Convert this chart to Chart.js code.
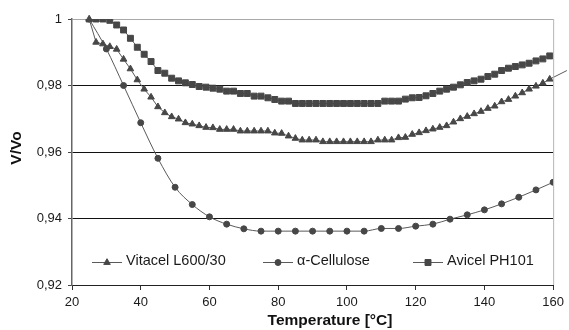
<!DOCTYPE html>
<html>
<head>
<meta charset="utf-8">
<script src="https://cdn.jsdelivr.net/npm/chart.js@4.4.0/dist/chart.umd.min.js"></script>
<style>
  html, body { margin:0; padding:0; background:#fff; }
  #wrap { width:569px; height:330px; }
</style>
</head>
<body>
<div id="wrap"><canvas id="chart" width="569" height="330"></canvas></div>
<script>
// Temperaturas (°C)
const temps2 = [25,27,29,31,33,35,37,39,41,43,45,47,49,51,53,55,57,59,61,63,65,67,69,71,73,75,77,79,81,83,85,87,89,91,93,95,97,99,101,103,105,107,109,111,113,115,117,119,121,123,125,127,129,131,133,135,137,139,141,143,145,147,149,151,153,155,157,159];
const temps5 = [25,30,35,40,45,50,55,60,65,70,75,80,85,90,95,100,105,110,115,120,125,130,135,140,145,150,155,160];

// V/Vo
const vitacel = [1.0,0.9930,0.9925,0.9917,0.9909,0.9879,0.9850,0.9817,0.9789,0.9765,0.9736,0.9718,0.9706,0.9699,0.9688,0.9684,0.9679,0.9674,0.9673,0.9668,0.9668,0.9668,0.9663,0.9663,0.9663,0.9663,0.9663,0.9657,0.9656,0.9648,0.9641,0.9636,0.9636,0.9636,0.9631,0.9631,0.9631,0.9631,0.9631,0.9631,0.9631,0.9631,0.9636,0.9636,0.9636,0.9643,0.9644,0.9653,0.9658,0.9664,0.9669,0.9674,0.9679,0.9690,0.9700,0.9707,0.9715,0.9722,0.9731,0.9738,0.9751,0.9758,0.9768,0.9778,0.9789,0.9798,0.9807,0.9819];
// la línea de tendencia sigue un poco más allá de 160
const vitacelEnd = { x:164, y:0.9845 };
const cellulose = [1.0,0.9910,0.9800,0.9688,0.9581,0.9494,0.9442,0.9405,0.9383,0.9369,0.9362,0.9362,0.9362,0.9362,0.9362,0.9362,0.9362,0.9370,0.9370,0.9377,0.9383,0.9398,0.9411,0.9426,0.9444,0.9464,0.9486,0.9509];
const avicel = [1.0,1.0,1.0,0.9996,0.9982,0.9967,0.9942,0.9915,0.9894,0.9872,0.9845,0.9837,0.9822,0.9814,0.9808,0.9803,0.9797,0.9795,0.9792,0.9789,0.9783,0.9783,0.9776,0.9776,0.9768,0.9768,0.9763,0.9758,0.9753,0.9753,0.9746,0.9746,0.9746,0.9746,0.9746,0.9746,0.9746,0.9746,0.9746,0.9746,0.9746,0.9746,0.9746,0.9753,0.9753,0.9753,0.9759,0.9763,0.9764,0.9769,0.9776,0.9783,0.9789,0.9795,0.9802,0.9809,0.9814,0.9819,0.9827,0.9834,0.9845,0.9852,0.9857,0.9862,0.9867,0.9874,0.9880,0.9889];

const seriesNames = ['Vitacel L600/30','\u03b1-Cellulose','Avicel PH101'];
const xTicks = [20,40,60,80,100,120,140,160];
const yTicks = [0.92,0.94,0.96,0.98,1];

const FONT = "'Liberation Sans', Arial, sans-serif";
const MARK = '#474747';
const LINE = '#5a5a5a';
const styles = ['triangle','circle','rect'];
const radii = [3.8, 3, 4.2];

function pts(xs, ys){ return xs.map((x,i)=>({x:x, y:ys[i]})); }

const vitacelPts = pts(temps2, vitacel);
vitacelPts.push(vitacelEnd);

// Leyenda y títulos de ejes
const extras = {
  id:'extras',
  afterDraw(chart){
    const c = chart.ctx, a = chart.chartArea;
    c.save();
    // borde derecho gris claro
    c.strokeStyle = '#b5b5b5'; c.lineWidth = 1;
    c.beginPath(); c.moveTo(a.right+0.5, a.top); c.lineTo(a.right+0.5, a.bottom); c.stroke();

    // leyenda
    const ly = a.bottom - 22.5;
    const starts = [92, 263, 413];
    seriesNames.forEach((name,i)=>{
      const x0 = starts[i];
      c.strokeStyle = LINE; c.lineWidth = 1;
      c.beginPath(); c.moveTo(x0, ly); c.lineTo(x0+30, ly); c.stroke();
      c.fillStyle = MARK; c.strokeStyle = MARK;
      Chart.helpers.drawPoint(c, {pointStyle: styles[i], radius: radii[i], borderWidth:1}, x0+15, ly);
      c.fillStyle = '#1a1a1a';
      c.font = '14.5px ' + FONT;
      c.textBaseline = 'middle'; c.textAlign = 'left';
      c.fillText(name, x0+34, ly-1.5);
    });

    // títulos
    c.fillStyle = '#111';
    c.font = 'bold 15.5px ' + FONT;
    c.textAlign = 'center'; c.textBaseline = 'middle';
    c.fillText('Temperature [\u00b0C]', 330, 321);
    c.translate(17, 148); c.rotate(-Math.PI/2);
    c.fillText('V/Vo', 0, 0);
    c.restore();
  }
};

const common = { showLine:true, borderColor:LINE, borderWidth:1, backgroundColor:MARK, pointBorderColor:MARK, pointBorderWidth:1, pointHoverRadius:0 };

new Chart(document.getElementById('chart'), {
  type:'scatter',
  data:{ datasets:[
    Object.assign({}, common, { label:seriesNames[0], data:vitacelPts, pointStyle:styles[0], pointRadius:(ctx)=> ctx.dataIndex === vitacelPts.length-1 ? 0 : radii[0], clip:false }),
    Object.assign({}, common, { label:seriesNames[1], data:pts(temps5, cellulose), pointStyle:styles[1], pointRadius:radii[1], tension:0.4, cubicInterpolationMode:'monotone' }),
    Object.assign({}, common, { label:seriesNames[2], data:pts(temps2, avicel), pointStyle:styles[2], pointRadius:radii[2] })
  ]},
  options:{
    responsive:false, animation:false, devicePixelRatio:1,
    layout:{ padding:{ top:19, right:13, left:0, bottom:0 } },
    plugins:{ legend:{display:false}, tooltip:{enabled:false} },
    scales:{
      x:{
        type:'linear', min:20, max:160,
        afterBuildTicks:(s)=>{ s.ticks = xTicks.map(v=>({value:v})); },
        afterFit:(s)=>{ s.height = 45; },
        grid:{ drawOnChartArea:false, tickLength:5, tickColor:'#333' },
        border:{ color:'#222', width:1 },
        ticks:{ color:'#1a1a1a', font:{ family:FONT, size:13 }, padding:5, maxRotation:0 }
      },
      y:{
        min:0.92, max:1,
        afterBuildTicks:(s)=>{ s.ticks = yTicks.map(v=>({value:v})); },
        afterFit:(s)=>{ s.width = 72; },
        grid:{ color:(ctx)=> ctx.tick && ctx.tick.value === 1 ? '#a8a8a8' : '#111', tickLength:4, tickColor:'#444' },
        border:{ color:'#666', width:1.5 },
        ticks:{ color:'#1a1a1a', font:{ family:FONT, size:13 }, padding:6,
          callback:(v)=> v === 1 ? '1' : v.toFixed(2).replace('.', ',') }
      }
    }
  },
  plugins:[extras]
});
</script>
</body>
</html>
